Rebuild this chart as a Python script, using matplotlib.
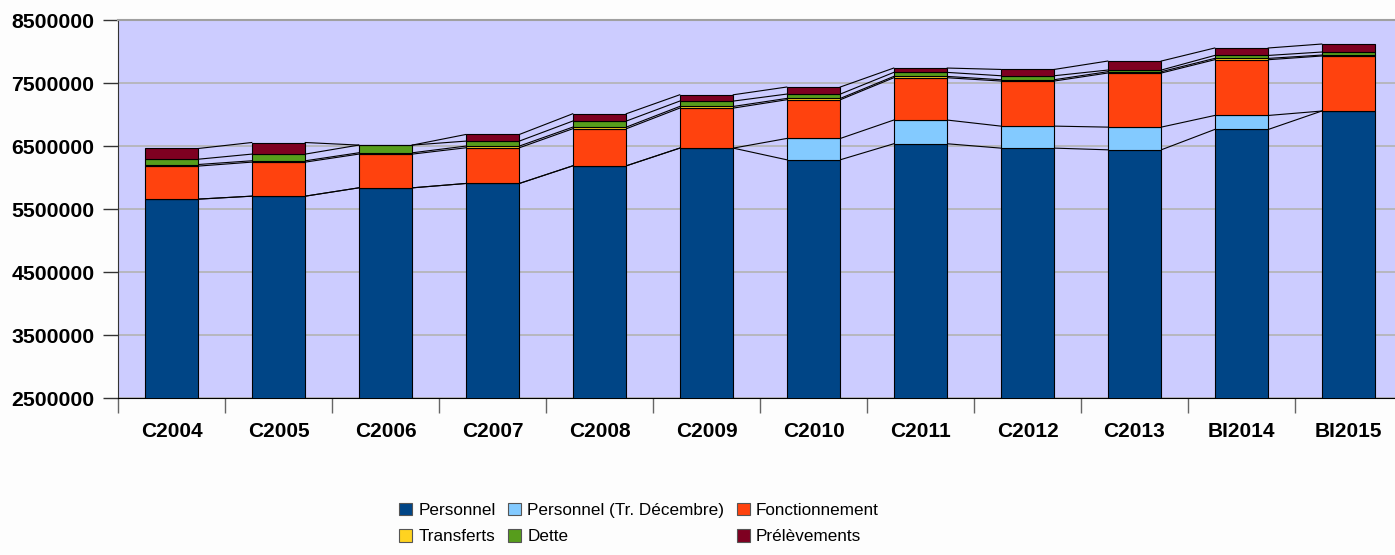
import matplotlib.pyplot as plt
import numpy as np

### DATA ###

categories = ["C2004", "C2005", "C2006", "C2007", "C2008", "C2009",
              "C2010", "C2011", "C2012", "C2013", "BI2014", "BI2015"]

personnel = [5659000, 5706000, 5838000, 5907000, 6187000, 6468000,
             6283000, 6537000, 6468000, 6441000, 6764000, 7056000]
personnel_dec = [0, 0, 0, 0, 0, 0,
                 338000, 376000, 349000, 360000, 222000, 0]
fonctionnement = [524000, 540000, 535000, 566000, 588000, 635000,
                  614000, 671000, 715000, 858000, 884000, 873000]
transferts = [25000, 21000, 21000, 27000, 26000, 26000,
              21000, 21000, 21000, 21000, 21000, 15000]
dette = [84000, 106000, 122000, 79000, 96000, 85000,
         69000, 64000, 63000, 26000, 47000, 48000]
prelevements = [170000, 184000, 0, 105000, 116000, 100000,
                112000, 69000, 100000, 143000, 118000, 127000]

series_names = ["Personnel", "Personnel (Tr. Décembre)", "Fonctionnement",
                "Transferts", "Dette", "Prélèvements"]
series_colors = ["#004586", "#83caff", "#ff420e", "#ffd320", "#579d1c", "#7e0021"]

y_ticks = [2500000, 3500000, 4500000, 5500000, 6500000, 7500000, 8500000]

### PLOT ###

plt.rcParams['font.family'] = ['Liberation Sans', 'DejaVu Sans']

fig = plt.figure(figsize=(13.95, 5.55), dpi=100, facecolor="#fdfdfd")
ax = fig.add_axes([118 / 1395, 1 - 398.3 / 555, 1284 / 1395, 378.3 / 555])
ax.set_facecolor("#ccccff")

x = np.arange(len(categories))
width = 0.5
all_series = [personnel, personnel_dec, fonctionnement, transferts, dette, prelevements]

bottom = np.zeros(len(categories))
handles = []
for values, name, color in zip(all_series, series_names, series_colors):
    values = np.asarray(values, dtype=float)
    bars = ax.bar(x, values, width, bottom=bottom, color=color,
                  edgecolor="black", linewidth=0.8, label=name, zorder=3)
    handles.append(bars)
    bottom = bottom + values
    # series lines between neighbouring bars
    for i in range(len(categories) - 1):
        ax.plot([x[i] + width / 2, x[i + 1] - width / 2], [bottom[i], bottom[i + 1]],
                color="black", linewidth=0.8, zorder=2)

ax.set_ylim(2500000, 8500000)
ax.set_xlim(-0.5, len(categories) - 0.5)
ax.set_yticks(y_ticks)
ax.set_yticklabels([str(t) for t in y_ticks], fontsize=15.3, fontweight="bold")
ax.set_xticks(x)
ax.set_xticklabels(categories, fontsize=15, fontweight="bold")
ax.set_xticks(np.arange(len(categories)) - 0.5, minor=True)
ax.tick_params(axis="x", which="major", length=0, pad=17)
ax.tick_params(axis="x", which="minor", length=11, color="#666666", width=1, direction="out")
ax.tick_params(axis="y", length=11, width=1, pad=6, color="#333333")

ax.yaxis.grid(True, color="#b3b3b3", linewidth=1.2, zorder=0)
ax.set_axisbelow(True)

ax.spines["right"].set_visible(False)
ax.spines["top"].set_color("#a0a0a0")
ax.spines["top"].set_linewidth(1.5)
ax.spines["left"].set_color("#333333")
ax.spines["bottom"].set_color("black")

# legend is filled column by column, so reorder to read row by row
order = [0, 3, 1, 4, 2, 5]
leg = fig.legend([handles[i] for i in order], [series_names[i] for i in order],
                 loc="center", bbox_to_anchor=(639 / 1395, 1 - 523.7 / 555),
                 ncol=3, frameon=False, fontsize=12.3, handlelength=0.75,
                 handleheight=0.75, handletextpad=0.35, columnspacing=0.75,
                 labelspacing=0.65)
for patch in leg.get_patches():
    patch.set_edgecolor("#555555")

fig.savefig("out.png", dpi=100, facecolor=fig.get_facecolor())
